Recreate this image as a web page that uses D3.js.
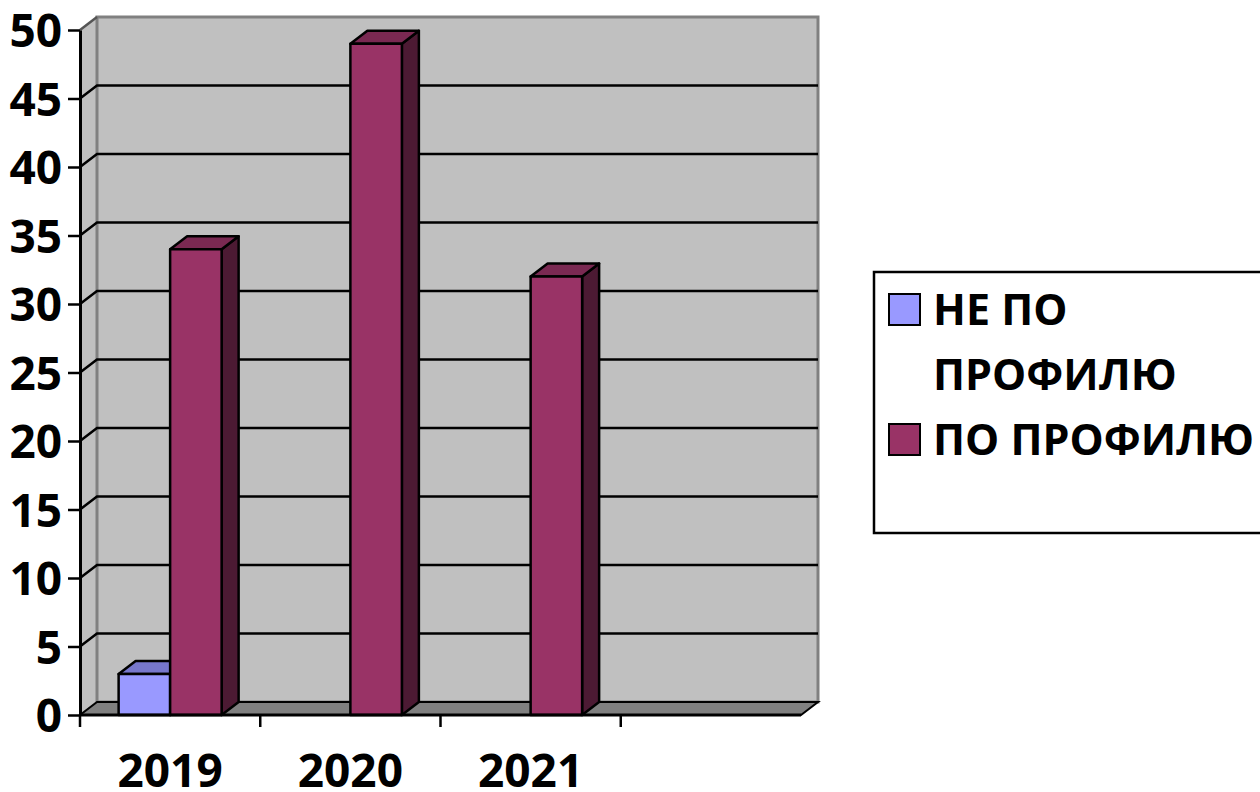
<!DOCTYPE html>
<html>
<head>
<meta charset="utf-8">
<script src="https://cdn.jsdelivr.net/npm/d3@7"></script>
<style>
  body { margin: 0; background: #fff; }
  text { font-family: "Open Sans", "Noto Sans", sans-serif; font-weight: 700; fill: #000; }
</style>
</head>
<body>
<div id="chart"></div>
<script>

// data
const categories = ["2019", "2020", "2021", ""];
const seriesNames = ["НЕ ПО ПРОФИЛЮ", "ПО ПРОФИЛЮ"];
const notProfile = [3, 0, 0, null];
const profile = [34, 49, 32, null];
const yTicks = [0, 5, 10, 15, 20, 25, 30, 35, 40, 45, 50];

const colors = {
    front: ["#9999FF", "#993366"],
    top:   ["#7777CC", "#7A2952"],
    side:  ["#5C5C99", "#4C1A33"]
};

const W = 1260, H = 792;
const depth = [17, -13]; // 3d offset of the back wall

const svg = d3.select("#chart").append("svg")
    .attr("width", W)
    .attr("height", H);

const x = d3.scaleBand().domain(categories).range([80, 801]);
const x1 = d3.scaleBand().domain(seriesNames).range([0, x.bandwidth()]).paddingOuter(0.75);
const y = d3.scaleLinear().domain([0, 50]).range([715, 30]);

const pts = (a) => a.map(p => p.join(",")).join(" ");

// walls
const x0 = x.range()[0], xEnd = x.range()[1];
svg.append("polygon") // side wall
    .attr("points", pts([[x0, y(0)], [x0, y(50)], [x0 + depth[0], y(50) + depth[1]], [x0 + depth[0], y(0) + depth[1]]]))
    .attr("fill", "#C0C0C0");
svg.append("polygon") // back wall
    .attr("points", pts([[x0 + depth[0], y(0) + depth[1]], [x0 + depth[0], y(50) + depth[1]],
                         [xEnd + depth[0], y(50) + depth[1]], [xEnd + depth[0], y(0) + depth[1]]]))
    .attr("fill", "#C0C0C0")
    .attr("stroke", "#808080")
    .attr("stroke-width", 3);
svg.append("polygon") // floor
    .attr("points", pts([[x0, y(0)], [xEnd, y(0)], [xEnd + depth[0], y(0) + depth[1]], [x0 + depth[0], y(0) + depth[1]]]))
    .attr("fill", "#808080")
    .attr("stroke", "#000")
    .attr("stroke-width", 2);

// gridlines
yTicks.filter(t => t > 0 && t < 50).forEach(t => {
    svg.append("polyline")
        .attr("points", pts([[x0, y(t)], [x0 + depth[0], y(t) + depth[1]], [xEnd + depth[0], y(t) + depth[1]]]))
        .attr("fill", "none")
        .attr("stroke", "#000")
        .attr("stroke-width", 2.5);
});
svg.append("line") // side wall top edge
    .attr("x1", x0).attr("y1", y(50))
    .attr("x2", x0 + depth[0]).attr("y2", y(50) + depth[1])
    .attr("stroke", "#555").attr("stroke-width", 2.5);

// bars
const bars = [];
categories.forEach((c, i) => {
    [notProfile, profile].forEach((vals, s) => {
        const v = vals[i];
        if (v === null || v === 0) return;
        bars.push({ cat: c, s: s, v: v });
    });
});

const barG = svg.selectAll(".bar")
    .data(bars)
    .enter()
    .append("g")
    .attr("class", "bar");

barG.each(function(d) {
    const g = d3.select(this);
    const l = x(d.cat) + x1(seriesNames[d.s]);
    const r = l + x1.bandwidth();
    const t = y(d.v), b = y(0);
    const [dx, dy] = depth;
    g.append("polygon") // side
        .attr("points", pts([[r, b], [r, t], [r + dx, t + dy], [r + dx, b + dy]]))
        .attr("fill", colors.side[d.s]);
    g.append("polygon") // top
        .attr("points", pts([[l, t], [l + dx, t + dy], [r + dx, t + dy], [r, t]]))
        .attr("fill", colors.top[d.s]);
    g.append("rect") // front
        .attr("x", l).attr("y", t)
        .attr("width", r - l).attr("height", b - t)
        .attr("fill", colors.front[d.s]);
    g.selectAll("polygon, rect")
        .attr("stroke", "#000")
        .attr("stroke-width", 2.5)
        .attr("stroke-linejoin", "round");
});

// y axis
const yAxis = svg.append("g")
    .attr("transform", `translate(${x0},0)`)
    .call(d3.axisLeft(y).tickValues(yTicks).tickSize(12).tickPadding(6).tickSizeOuter(0));
yAxis.select(".domain").attr("stroke", "#000").attr("stroke-width", 3);
yAxis.selectAll(".tick line").attr("stroke", "#000").attr("stroke-width", 2.5);
yAxis.selectAll(".tick text")
    .attr("font-family", null).attr("font-size", 46).attr("dy", "0.36em");

// x axis
svg.append("line")
    .attr("x1", x0).attr("y1", y(0)).attr("x2", xEnd).attr("y2", y(0))
    .attr("stroke", "#000").attr("stroke-width", 3);
svg.selectAll(".xtick")
    .data(categories)
    .enter()
    .append("line")
    .attr("class", "xtick")
    .attr("x1", d => x(d)).attr("x2", d => x(d))
    .attr("y1", y(0)).attr("y2", y(0) + 12)
    .attr("stroke", "#000").attr("stroke-width", 2.5);
svg.selectAll(".xlabel")
    .data(categories)
    .enter()
    .append("text")
    .attr("class", "xlabel")
    .attr("x", d => x(d) + x.bandwidth() / 2)
    .attr("y", 787)
    .attr("text-anchor", "middle")
    .attr("font-size", 46)
    .text(d => d);

// legend
const legend = svg.append("g");
legend.append("rect")
    .attr("x", 874).attr("y", 272)
    .attr("width", 400).attr("height", 261)
    .attr("fill", "#fff")
    .attr("stroke", "#000")
    .attr("stroke-width", 2.5);

const legendLines = [["НЕ ПО", "ПРОФИЛЮ"], ["ПО ПРОФИЛЮ"]];
const legendY = [325, 455];
legendLines.forEach((lines, s) => {
    legend.append("rect")
        .attr("x", 889).attr("y", legendY[s] - 31)
        .attr("width", 31).attr("height", 31)
        .attr("fill", colors.front[s])
        .attr("stroke", "#000")
        .attr("stroke-width", 2);
    lines.forEach((t, k) => {
        legend.append("text")
            .attr("x", 933)
            .attr("y", legendY[s] + k * 65)
            .attr("font-size", 43)
            .text(t);
    });
});

</script>
</body>
</html>
